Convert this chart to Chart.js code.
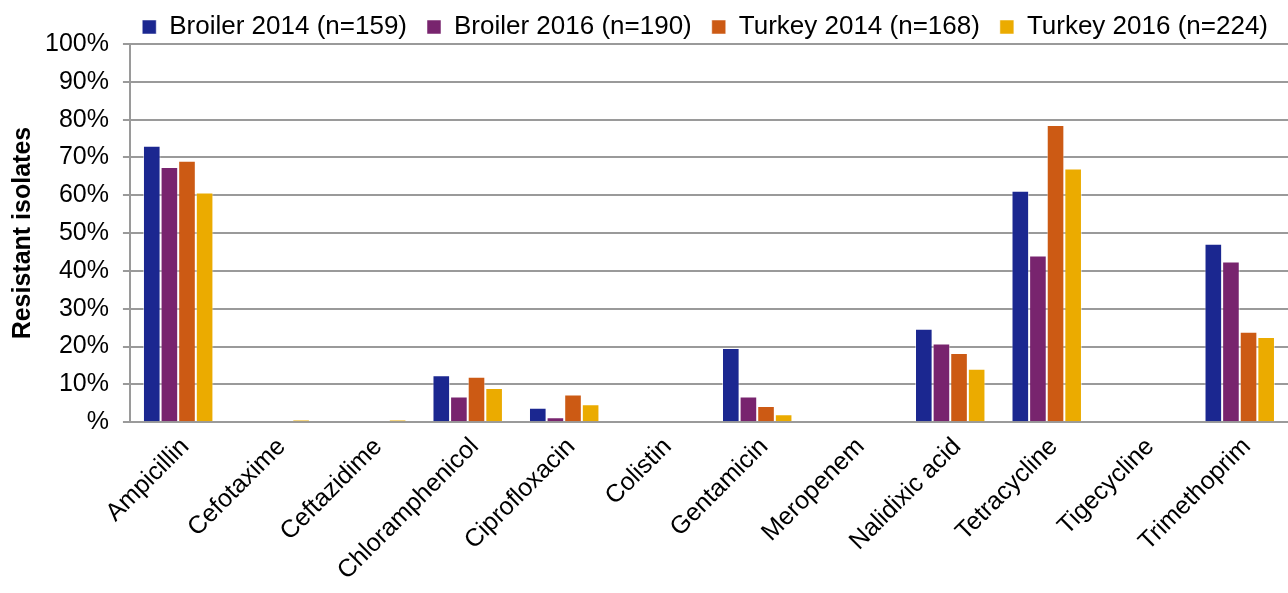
<!DOCTYPE html>
<html>
<head>
<meta charset="utf-8">
<script src="https://cdn.jsdelivr.net/npm/chart.js@4/dist/chart.umd.min.js"></script>
<style>
  html, body { margin: 0; padding: 0; background: #fff; }
  #wrap { width: 1288px; height: 593px; position: relative; }
</style>
</head>
<body>
<div id="wrap"><canvas id="resChart"></canvas></div>
<script>
/* ─── DATA ─────────────────────────────────────────── */
const antimicrobials = ['Ampicillin', 'Cefotaxime', 'Ceftazidime', 'Chloramphenicol', 'Ciprofloxacin',
  'Colistin', 'Gentamicin', 'Meropenem', 'Nalidixic acid', 'Tetracycline', 'Tigecycline', 'Trimethoprim'];

const broiler2014 = [73.1, 0, 0, 12.4, 3.8, 0, 19.6, 0, 24.7, 61.2, 0, 47.2];
const broiler2016 = [67.5, 0, 0, 6.8, 1.3, 0, 6.8, 0, 20.8, 44.1, 0, 42.5];
const turkey2014  = [69.1, 0, 0, 12.0, 7.3, 0, 4.3, 0, 18.3, 78.6, 0, 23.9];
const turkey2016  = [60.7, 0.6, 0.6, 9.0, 4.7, 0, 2.1, 0, 14.1, 67.1, 0, 22.5];

const seriesLabels = ['Broiler 2014 (n=159)', 'Broiler 2016 (n=190)', 'Turkey 2014 (n=168)', 'Turkey 2016 (n=224)'];
const seriesColors = ['#1b2790', '#78246e', '#cc5a14', '#ebab00'];

const yTicks = [0, 10, 20, 30, 40, 50, 60, 70, 80, 90, 100];

/* ─── CHART ────────────────────────────────────────── */
Chart.defaults.font.family = "'Liberation Sans', Arial, sans-serif";
Chart.defaults.color = '#000';

const gridColor = '#9a9a9a';
const allSeries = [broiler2014, broiler2016, turkey2014, turkey2016];

/* legend keeps wide item spacing but only takes a fixed height */
const legendHeight = {
  id: 'legendHeight',
  beforeLayout(chart) {
    const lg = chart.legend;
    if (!lg || lg._fixed) return;
    const fit = lg.fit;
    lg.fit = function () { fit.call(this); this.height = 50; };
    lg._fixed = true;
  }
};

new Chart(document.getElementById('resChart'), {
  type: 'bar',
  data: {
    labels: antimicrobials,
    datasets: allSeries.map((vals, i) => ({
      label: seriesLabels[i],
      data: vals,
      backgroundColor: seriesColors[i],
      borderColor: 'rgba(255,255,255,0.5)',
      borderWidth: 1,
      categoryPercentage: 0.73,
      barPercentage: 1
    }))
  },
  plugins: [legendHeight],
  options: {
    responsive: true,
    maintainAspectRatio: false,
    animation: false,
    layout: { padding: { left: 8, right: 0, top: -6, bottom: -3 } },
    plugins: {
      legend: {
        position: 'top',
        align: 'end',
        labels: {
          font: { size: 26 },
          boxWidth: 14,
          boxHeight: 14,
          padding: 20,
          useBorderRadius: false
        }
      },
      tooltip: { enabled: false }
    },
    scales: {
      x: {
        grid: { display: false, drawTicks: false },
        border: { color: gridColor, width: 2 },
        ticks: {
          font: { size: 25 },
          color: '#000',
          maxRotation: 45,
          minRotation: 45,
          padding: 10,
          labelOffset: 7,
          autoSkip: false
        }
      },
      y: {
        min: 0,
        max: 100,
        afterBuildTicks: (axis) => { axis.ticks = yTicks.map(v => ({ value: v })); },
        grid: { color: gridColor, lineWidth: 2, tickLength: 7 },
        border: { color: gridColor, width: 2 },
        ticks: {
          font: { size: 25 },
          color: '#000',
          padding: 14,
          callback: (v) => v === 0 ? '%' : v + '%'
        },
        title: {
          display: true,
          text: 'Resistant isolates',
          font: { size: 25, weight: 'bold', lineHeight: 0.64 },
          color: '#000',
          padding: { top: 7, bottom: 0 }
        }
      }
    }
  }
});
</script>
</body>
</html>
